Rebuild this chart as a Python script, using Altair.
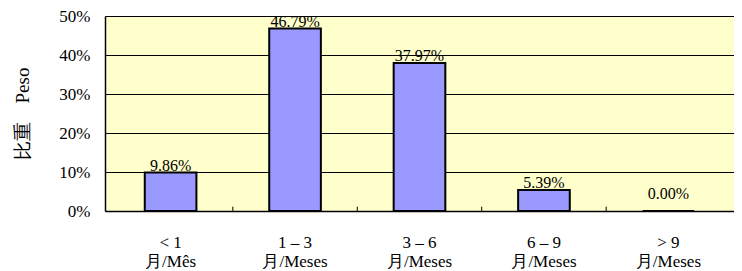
import altair as alt
import pandas as pd

categories = ["< 1|月/Mês", "1 – 3|月/Meses", "3 – 6|月/Meses", "6 – 9|月/Meses", "> 9|月/Meses"]
values = [0.0986, 0.4679, 0.3797, 0.0539, 0.0000]
y_ticks = [0, 0.1, 0.2, 0.3, 0.4, 0.5]

df = pd.DataFrame({"cat": categories, "v": values, "idx": list(range(len(categories)))})

FONT = "Liberation Serif"
Y_TITLE = "比重\u2003Peso"

x_scale = alt.Scale(domain=categories, paddingInner=0, paddingOuter=0.027)
y_scale = alt.Scale(domain=[0, 0.5])

y_axis = alt.Axis(values=y_ticks, format=".0%", ticks=False, labelPadding=15,
                  labelFontSize=17, labelFont=FONT, labelColor="black",
                  labelOverlap=False,
                  titleFont=FONT, titleFontSize=19, titleFontWeight="normal",
                  titleColor="black", titlePadding=26,
                  domainColor="black", domainWidth=1.5,
                  grid=True, gridColor="black", gridWidth=1, gridOpacity=1)

x_axis = alt.Axis(labelExpr="split(datum.label, '|')", labelAngle=0,
                  ticks=False, labelPadding=23, labelLineHeight=19,
                  labelFontSize=17, labelFont=FONT, labelColor="black",
                  domainColor="black", domainWidth=1.5, grid=False)

base = alt.Chart(df)

bars = base.mark_bar(
    width=alt.RelativeBandSize(0.415), color="#9999FF", stroke="black", strokeWidth=2
).encode(
    x=alt.X("cat:N", scale=x_scale, sort=categories, title=None, axis=x_axis),
    y=alt.Y("v:Q", scale=y_scale, title=Y_TITLE, axis=y_axis),
)

labels = base.transform_calculate(
    pos="max(datum.v, 0.025)"
).mark_text(
    baseline="alphabetic", dy=-2, fontSize=16, font=FONT, color="black"
).encode(
    x=alt.X("cat:N", scale=x_scale, sort=categories, title=None, axis=x_axis),
    y=alt.Y("pos:Q", scale=y_scale, title=Y_TITLE, axis=y_axis),
    text=alt.Text("v:Q", format=".2%"),
)

ticks = base.transform_filter("datum.idx > 0").mark_rule(color="black", strokeWidth=1).encode(
    x=alt.X("cat:N", scale=x_scale, sort=categories, bandPosition=0, title=None, axis=x_axis),
    y=alt.YDatum(0, scale=y_scale, title=Y_TITLE, axis=y_axis),
    y2=alt.Y2Datum(0.011),
)

chart = alt.layer(bars, ticks, labels).properties(
    width=629, height=195,
    autosize=alt.AutoSizeParams(type="none"),
    padding={"left": 97, "top": 8, "right": 0, "bottom": 60},
).configure_view(fill="#FFFFCC", stroke=None)

chart.save("out.html", embed_options={"renderer": "svg", "actions": False})
